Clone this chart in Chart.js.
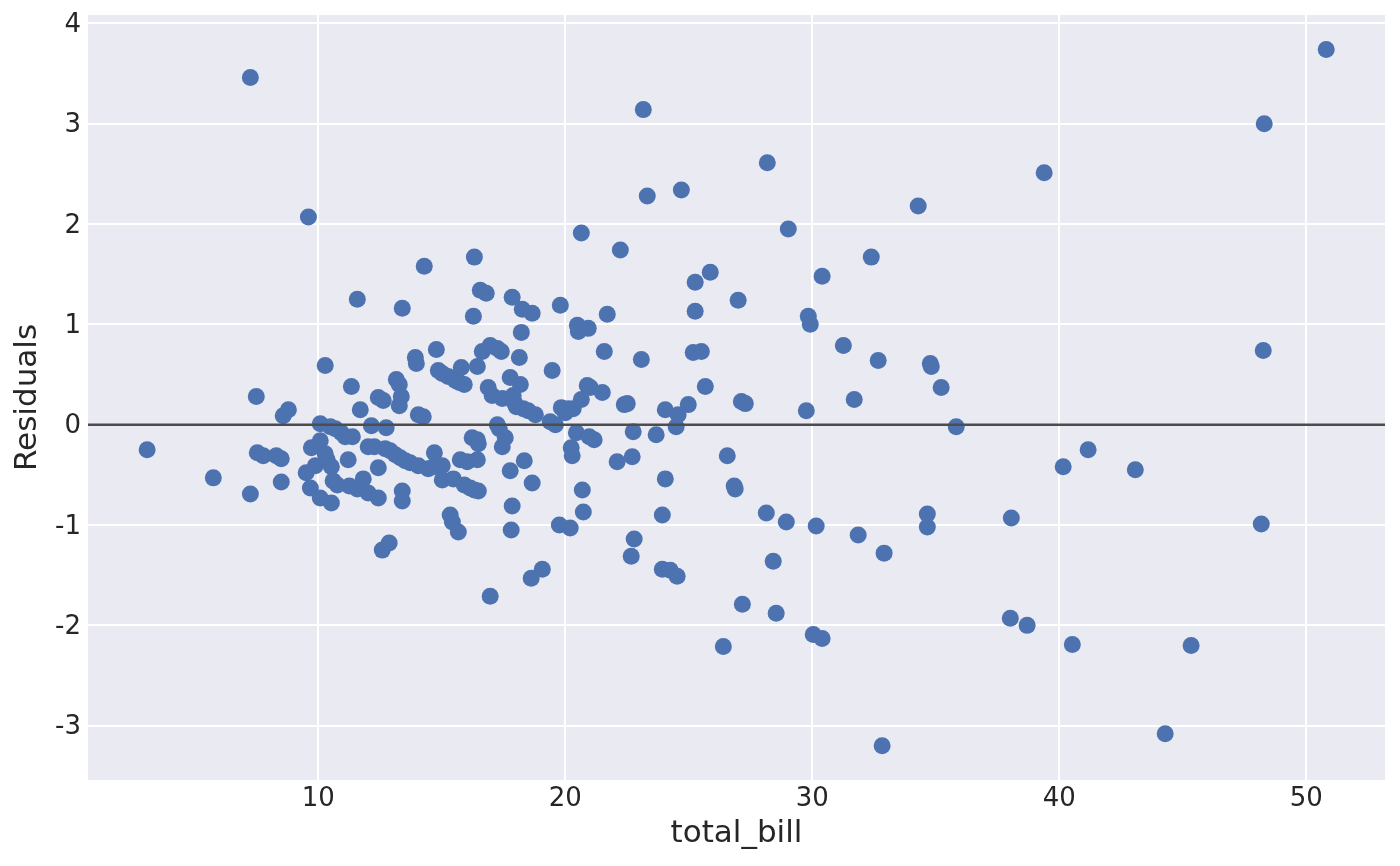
<!DOCTYPE html>
<html>
<head>
<meta charset="utf-8">
<style>
  html, body { margin: 0; padding: 0; background: #fff; }
  #wrap { width: 1400px; height: 866px; }
</style>
<script src="https://cdn.jsdelivr.net/npm/chart.js@4/dist/chart.umd.min.js"></script>
</head>
<body>
<div id="wrap"><canvas id="residChart" width="1400" height="866"></canvas></div>
<script>
// total_bill values and regression residuals
const totalBill = [
  3.07, 5.75, 7.25, 7.25, 7.49, 7.53, 7.77, 8.30, 8.50, 8.50, 8.58, 8.79, 9.51, 9.60, 9.68, 9.72, 9.88,
  10.08, 10.08, 10.08, 10.28, 10.28, 10.36, 10.49, 10.53, 10.53, 10.60, 10.69, 10.77, 10.93, 11.09, 11.26,
  11.21, 11.34, 11.38, 11.58, 11.58, 11.70, 11.82, 12.02, 12.02, 12.15, 12.27, 12.43, 12.43, 12.43, 12.59,
  12.63, 12.71, 12.75, 12.87, 12.91, 13.12, 13.16, 13.28, 13.28, 13.32, 13.36, 13.40, 13.40, 13.40, 13.52,
  13.72, 13.93, 13.97, 14.05, 14.05, 14.25, 14.29, 14.45, 14.66, 14.70, 14.78, 14.86, 15.02, 15.02, 15.02,
  15.26, 15.34, 15.43, 15.47, 15.55, 15.67, 15.71, 15.75, 15.79, 15.91, 15.91, 16.03, 16.15, 16.23, 16.28,
  16.32, 16.32, 16.44, 16.44, 16.44, 16.48, 16.48, 16.56, 16.64, 16.80, 16.88, 16.96, 16.96, 17.04, 17.25,
  17.25, 17.33, 17.41, 17.45, 17.45, 17.57, 17.77, 17.77, 17.81, 17.85, 17.85, 17.89, 17.94, 18.02, 18.14,
  18.18, 18.22, 18.26, 18.30, 18.34, 18.50, 18.62, 18.66, 18.66, 18.79, 19.07, 19.39, 19.47, 19.60, 19.76,
  19.80, 19.84, 20.00, 20.12, 20.20, 20.24, 20.28, 20.32, 20.45, 20.49, 20.53, 20.65, 20.65, 20.69, 20.73,
  20.89, 20.93, 20.97, 21.01, 21.17, 21.50, 21.58, 21.70, 22.10, 22.23, 22.39, 22.51, 22.67, 22.71, 22.75,
  22.79, 23.08, 23.16, 23.32, 23.68, 23.93, 23.93, 24.05, 24.05, 24.25, 24.49, 24.53, 24.57, 24.70, 24.98,
  25.18, 25.26, 25.26, 25.51, 25.67, 25.87, 26.40, 26.56, 26.84, 26.88, 27.00, 27.13, 27.17, 27.29, 28.14,
  28.18, 28.42, 28.54, 28.95, 29.03, 29.76, 29.84, 29.92, 30.04, 30.16, 30.40, 30.40, 31.26, 31.70, 31.86,
  32.39, 32.67, 32.83, 32.91, 34.29, 34.66, 34.66, 34.78, 34.82, 35.22, 35.83, 38.02, 38.06, 38.70, 39.39,
  40.16, 40.53, 41.17, 43.08, 44.29, 45.34, 48.18, 48.26, 48.30, 50.81
];
const residuals = [
  -0.25, -0.53, 3.46, -0.69, 0.28, -0.28, -0.31, -0.31, -0.34, -0.57, 0.09, 0.15, -0.48, 2.07, -0.63, -0.23, -0.41,
  0.01, -0.16, -0.73, 0.59, -0.29, -0.35, -0.02, -0.78, -0.42, -0.56, -0.04, -0.60, -0.08, -0.12, -0.61,
  -0.35, 0.38, -0.12, 1.25, -0.64, 0.15, -0.54, -0.22, -0.68, -0.01, -0.22, 0.27, -0.43, -0.73, -1.25,
  0.24, -0.24, -0.03, -1.18, -0.26, -0.30, 0.45, 0.40, 0.19, -0.33, 0.28, 1.16, -0.66, -0.76, -0.36,
  -0.38, 0.67, 0.61, 0.10, -0.41, 0.08, 1.58, -0.44, -0.42, -0.28, 0.75, 0.54, 0.51, -0.41, -0.55,
  0.48, -0.90, -0.97, -0.54, 0.44, -1.07, 0.42, -0.35, 0.57, -0.60, 0.40, -0.37, -0.63, -0.13, 1.08,
  1.67, -0.65, -0.15, -0.35, 0.58, -0.19, -0.66, 1.34, 0.73, 1.31, 0.37, -1.71, 0.79, 0.29, 0.00,
  0.76, -0.04, 0.73, -0.22, 0.26, -0.13, 0.47, -0.46, -1.05, 1.27, -0.81, 0.29, 0.22, 0.18, 0.67,
  0.40, 0.92, 1.15, 0.16, -0.36, 0.14, -1.53, 1.11, -0.58, 0.10, -1.44, 0.03, 0.54, 0.00, -1.00,
  1.19, 0.17, 0.12, 0.16, -1.03, -0.23, -0.31, 0.16, -0.08, 0.99, 0.93, 0.25, 1.91, -0.65, -0.87,
  0.39, 0.96, -0.12, 0.37, -0.15, 0.32, 0.73, 1.10, -0.37, 1.74, 0.20, 0.21, -1.31, -0.32, -0.07,
  -1.14, 0.65, 3.14, 2.28, -0.10, -1.44, -0.90, 0.15, -0.54, -1.45, -0.02, -1.51, 0.10, 2.34, 0.20,
  0.72, 1.42, 1.13, 0.73, 0.38, 1.52, -2.21, -0.31, -0.61, -0.64, 1.24, 0.23, -1.79, 0.21, -0.88,
  2.61, -1.36, -1.88, -0.97, 1.95, 0.14, 1.08, 1.00, -2.09, -1.01, -2.13, 1.48, 0.79, 0.25, -1.10,
  1.67, 0.64, -3.20, -1.28, 2.18, -1.02, -0.89, 0.61, 0.58, 0.37, -0.02, -1.93, -0.93, -2.00, 2.51,
  -0.42, -2.19, -0.25, -0.45, -3.08, -2.20, -0.99, 0.74, 3.00, 3.74
];
const xTicks = [10, 20, 30, 40, 50];
const yTicks = [-3, -2, -1, 0, 1, 2, 3, 4];

const points = totalBill.map((x, i) => ({ x: x, y: residuals[i] }));
const textColor = '#262626';

// grey panel behind the plot, like seaborn darkgrid
const panelBg = {
  id: 'panelBg',
  beforeDraw(chart) {
    const { ctx, chartArea: a } = chart;
    ctx.save();
    ctx.fillStyle = '#EAEAF2';
    ctx.fillRect(a.left, a.top, a.right - a.left, a.bottom - a.top);
    ctx.restore();
  }
};

// horizontal line at residual 0, drawn over the dots
const zeroLine = {
  id: 'zeroLine',
  afterDatasetsDraw(chart) {
    const { ctx, chartArea: a, scales } = chart;
    const y = scales.y.getPixelForValue(0);
    ctx.save();
    ctx.strokeStyle = '#4d4d4d';
    ctx.lineWidth = 2.6;
    ctx.beginPath();
    ctx.moveTo(a.left, y);
    ctx.lineTo(a.right, y);
    ctx.stroke();
    ctx.restore();
  }
};

new Chart(document.getElementById('residChart').getContext('2d'), {
  type: 'scatter',
  data: {
    datasets: [{
      label: 'Residuals',
      data: points,
      backgroundColor: '#4C72B0',
      borderWidth: 0,
      pointRadius: 8.5,
      pointHoverRadius: 8.5
    }]
  },
  plugins: [panelBg, zeroLine],
  options: {
    responsive: false,
    animation: false,
    devicePixelRatio: 1,
    layout: { padding: { top: 15, right: 15, left: 0, bottom: 0 } },
    plugins: { legend: { display: false }, tooltip: { enabled: false } },
    scales: {
      x: {
        type: 'linear',
        min: 0.676,
        max: 53.19,
        afterFit: s => { s.height = 86; s.paddingLeft = 0; s.paddingRight = 0; },
        afterBuildTicks: s => { s.ticks = xTicks.map(v => ({ value: v })); },
        grid: { color: '#ffffff', lineWidth: 2, drawTicks: false },
        border: { display: false },
        ticks: { color: textColor, padding: 4, font: { family: 'DejaVu Sans', size: 26 } },
        title: {
          display: true, text: 'total_bill', color: textColor,
          font: { family: 'DejaVu Sans', size: 31 },
          padding: { top: 0, bottom: 13 }
        }
      },
      y: {
        type: 'linear',
        min: -3.541,
        max: 4.083,
        afterFit: s => { s.width = 88; s.paddingTop = 0; s.paddingBottom = 0; },
        afterBuildTicks: s => { s.ticks = yTicks.map(v => ({ value: v })); },
        grid: { color: '#ffffff', lineWidth: 2, drawTicks: false },
        border: { display: false },
        ticks: { color: textColor, padding: 7, labelOffset: 2, font: { family: 'DejaVu Sans', size: 26 } },
        title: {
          display: true, text: 'Residuals', color: textColor,
          font: { family: 'DejaVu Sans', size: 31 },
          padding: { top: 9, bottom: 0 }
        }
      }
    }
  }
});
</script>
</body>
</html>
